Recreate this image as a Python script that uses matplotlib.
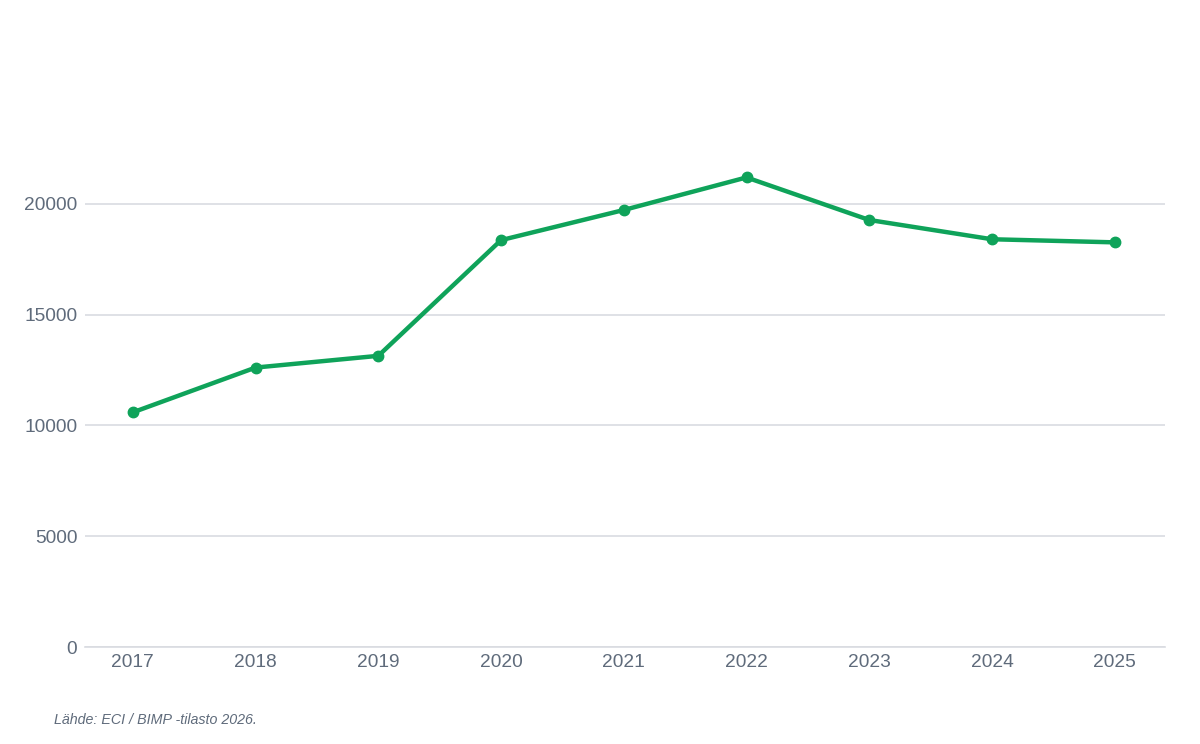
import matplotlib
matplotlib.use("Agg")
import matplotlib.pyplot as plt

years = ["2017", "2018", "2019", "2020", "2021", "2022", "2023", "2024", "2025"]
values = [10590, 12610, 13140, 18360, 19720, 21190, 19270, 18400, 18260]
y_ticks = [0, 5000, 10000, 15000, 20000]

plt.rcParams["font.family"] = ["Liberation Sans", "DejaVu Sans"]
text_color = "#5f6b7b"
grid_color = "#d9dce1"
line_color = "#0fa35a"

fig = plt.figure(figsize=(12, 7.44), dpi=100)
ax = fig.add_axes([85 / 1200, 97 / 744, 1080 / 1200, 554 / 744])

x = list(range(len(years)))
ax.plot(x, values, color=line_color, linewidth=3.2, marker="o", markersize=7.5, zorder=3)

ax.set_xlim(-0.39, len(years) - 1 + 0.41)
ax.set_ylim(0, 25000)
ax.set_yticks(y_ticks)
ax.set_yticklabels([str(v) for v in y_ticks])
ax.set_xticks(x)
ax.set_xticklabels(years)

ax.grid(axis="y", color=grid_color, linewidth=1.2)
ax.set_axisbelow(True)
for side in ["top", "right", "left"]:
    ax.spines[side].set_visible(False)
ax.spines["bottom"].set_color(grid_color)
ax.spines["bottom"].set_linewidth(1.2)

ax.tick_params(axis="both", length=0, labelsize=13.8, colors=text_color)
ax.tick_params(axis="x", pad=5)
ax.tick_params(axis="y", pad=5.5)

fig.text(54 / 1200, 1 - 720 / 744, "Lähde: ECI / BIMP -tilasto 2026.",
         fontsize=10.3, style="italic", color=text_color, va="center")

fig.savefig("out.png", dpi=100)
